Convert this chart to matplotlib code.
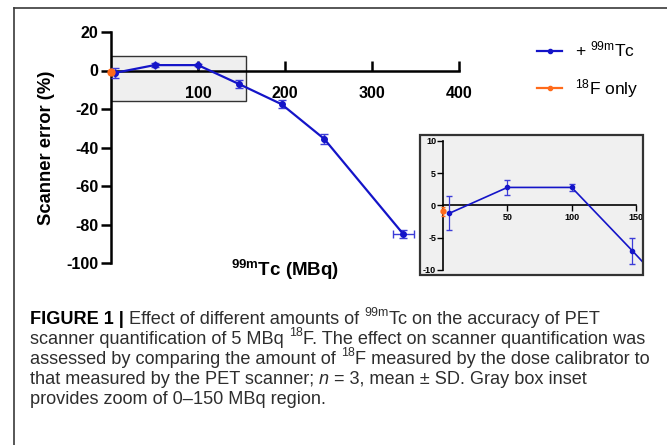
import matplotlib
matplotlib.use("Agg")
import matplotlib.pyplot as plt
from matplotlib.patches import Rectangle
from matplotlib.lines import Line2D
from matplotlib import font_manager
import numpy as np

plt.rcParams['font.family'] = ['Liberation Sans', 'DejaVu Sans']
plt.rcParams['mathtext.fontset'] = 'custom'
plt.rcParams['mathtext.rm'] = 'Liberation Sans'
plt.rcParams['mathtext.it'] = 'Liberation Sans:italic'
plt.rcParams['mathtext.bf'] = 'Liberation Sans:bold'
plt.rcParams['axes.unicode_minus'] = False

# ---- data ----
tc_mbq = [5, 50, 100, 147, 196, 245, 336]
tc_err_pct = [-1.2, 2.8, 2.8, -7.0, -17.5, -35.5, -85.0]
tc_sd = [2.6, 1.1, 0.5, 2.0, 2.0, 2.5, 2.0]
tc_xsd = [0, 0, 0, 0, 0, 0, 12]
f_only_x = [0]
f_only_y = [-0.9]
f_only_sd = [0.7]

main_xticks = [100, 200, 300, 400]
main_yticks = [20, 0, -20, -40, -60, -80, -100]
inset_xticks = [50, 100, 150]
inset_yticks = [10, 5, 0, -5, -10]

blue = '#1414c8'
blue_err = '#3c3cd8'
orange = '#ff6a1a'

W, H = 667, 445
fig = plt.figure(figsize=(W / 100, H / 100), dpi=100)

def fx(px):
    return px / W

def fy(py):
    return 1 - py / H

# outer frame (left + top)
fig.add_artist(Line2D([fx(14), fx(14)], [fy(8), 0], color='#3a3a3a', lw=1.2))
fig.add_artist(Line2D([fx(14), 1], [fy(8), fy(8)], color='#3a3a3a', lw=1.2))

# ---- main axes ----
ax = fig.add_axes([fx(111), fy(263), fx(459) - fx(111), fy(32) - fy(263)])
ax.set_xlim(0, 400)
ax.set_ylim(-100, 20)
ax.patch.set_alpha(0)
for s in ['top', 'right']:
    ax.spines[s].set_visible(False)
ax.spines['bottom'].set_position(('data', 0))
for s in ['left', 'bottom']:
    ax.spines[s].set_linewidth(1.8)
ax.set_xticks(main_xticks)
ax.set_yticks(main_yticks)
ax.tick_params(axis='x', direction='in', length=7, width=1.8, pad=11, labelsize=11.5)
ax.tick_params(axis='y', direction='out', length=7, width=1.8, pad=2, labelsize=11.5)
for lab in ax.get_xticklabels() + ax.get_yticklabels():
    lab.set_fontweight('bold')

ax.add_patch(Rectangle((0, -16), 155, 23.5, facecolor='#efefef', edgecolor='#333333',
                       lw=1.0, zorder=0.5))

ax.errorbar(tc_mbq, tc_err_pct, yerr=tc_sd, xerr=tc_xsd, color=blue, ecolor=blue_err,
            lw=1.6, elinewidth=1.0, capsize=3, marker='o', ms=4, zorder=3)
ax.errorbar(f_only_x, f_only_y, yerr=f_only_sd, color=orange, ecolor=orange,
            lw=1.6, elinewidth=1.0, capsize=2, marker='o', ms=5, zorder=4, clip_on=False)

ax.set_ylabel('Scanner error (%)', fontsize=13.2, fontweight='bold')
ax.yaxis.set_label_coords(-0.184, 0.5)
ax.yaxis.label.set_va('center')
ax.set_xlabel('$^{\\mathbf{99m}}$Tc (MBq)', fontsize=13.5, fontweight='bold')
ax.xaxis.set_label_coords(0.5, -0.03)
ax.xaxis.label.set_va('center')

handles = [Line2D([], [], color=blue, lw=1.6, marker='o', ms=3),
           Line2D([], [], color=orange, lw=1.6, marker='o', ms=3)]
labels = ['+ $^{99\\mathrm{m}}$Tc', '$^{18}$F only']
leg = fig.legend(handles, labels, loc='upper left',
                 bbox_to_anchor=(fx(537), fy(40)), frameon=False, fontsize=12.5,
                 handlelength=1.45, handletextpad=0.75, labelspacing=1.0,
                 borderpad=0, borderaxespad=0)

# ---- inset axes ----
ix0, ix1 = -17.9, 155.4
iy0, iy1 = -10.78, 10.93
ins = fig.add_axes([fx(420), fy(275), fx(643) - fx(420), fy(135) - fy(275)])
ins.set_xlim(ix0, ix1)
ins.set_ylim(iy0, iy1)
ins.patch.set_facecolor('#f0f0f0')
for s in ['top', 'right']:
    ins.spines[s].set_visible(False)
ins.spines['left'].set_position(('data', 0))
ins.spines['bottom'].set_position(('data', 0))
ins.spines['left'].set_bounds(-10, 10)
ins.spines['bottom'].set_bounds(0, 150)
for s in ['left', 'bottom']:
    ins.spines[s].set_linewidth(1.2)
ins.add_patch(Rectangle((0, 0), 1, 1, transform=ins.transAxes, fill=False,
                        edgecolor='#333333', lw=1.6, clip_on=False, zorder=5))
ins.set_xticks(inset_xticks)
ins.set_yticks(inset_yticks)
ins.tick_params(axis='x', direction='out', length=4, width=1.0, pad=1.5, labelsize=6.5)
ins.tick_params(axis='y', direction='out', length=4, width=1.0, pad=1, labelsize=6.5)
for lab in ins.get_xticklabels() + ins.get_yticklabels():
    lab.set_fontweight('bold')
eb = ins.errorbar(tc_mbq, tc_err_pct, yerr=tc_sd, color=blue, ecolor=blue_err,
                  lw=1.2, elinewidth=0.9, capsize=2, marker='o', ms=3, zorder=3)
ins.errorbar(f_only_x, f_only_y, yerr=f_only_sd, color=orange, ecolor=orange,
             lw=1.2, elinewidth=0.9, capsize=1.5, marker='o', ms=3.5, zorder=4)
for child in eb.get_children():
    child.set_clip_on(True)
    child.set_clip_path(ins.patch)

# ---- caption (drawn as styled segments) ----
names = {f.name for f in font_manager.fontManager.ttflist}
cap_family = 'Liberation Sans Narrow' if 'Liberation Sans Narrow' in names else 'Liberation Sans'
cap_color = '#2e2e2e'
cap_fs = 13.1
caption_lines = [
    [('b', 'FIGURE 1 | '), ('n', 'Effect of different amounts of '), ('s', '99m'),
     ('n', 'Tc on the accuracy of PET')],
    [('n', 'scanner quantification of 5 MBq '), ('s', '18'),
     ('n', 'F. The effect on scanner quantification was')],
    [('n', 'assessed by comparing the amount of '), ('s', '18'),
     ('n', 'F measured by the dose calibrator to')],
    [('n', 'that measured by the PET scanner; '), ('i', 'n'),
     ('n', ' = 3, mean \u00b1 SD. Gray box inset')],
    [('n', 'provides zoom of 0\u2013150 MBq region.')],
]
baselines = [324, 344, 364, 384, 404]

renderer = fig.canvas.get_renderer()
px_per_pt = 100 / 72

def measure(txt, kw):
    k2 = {k: v for k, v in kw.items() if k not in ('va', 'ha')}
    t = fig.text(0, 0, txt, **k2)
    w = t.get_window_extent(renderer).width
    t.remove()
    return w

for segs, bl in zip(caption_lines, baselines):
    xpos = 30.0
    for kind, txt in segs:
        kw = dict(family=cap_family, fontsize=cap_fs, color=cap_color, va='baseline', ha='left')
        ypx = bl
        if kind == 'b':
            kw.update(fontweight='bold', color='black')
        elif kind == 'i':
            kw.update(style='italic')
        elif kind == 's':
            kw.update(fontsize=cap_fs * 0.68)
            ypx = bl - cap_fs * 0.42 * px_per_pt
        fig.text(fx(xpos), fy(ypx), txt, **kw)
        stripped = txt.rstrip()
        n_trail = len(txt) - len(stripped)
        w = measure(stripped, kw) if stripped else 0
        if n_trail:
            sp = measure('x x', kw) - 2 * measure('x', kw)
            w += sp * n_trail
        xpos += w + (0.5 if kind == 's' else 0)

fig.savefig('out.png', dpi=100)
